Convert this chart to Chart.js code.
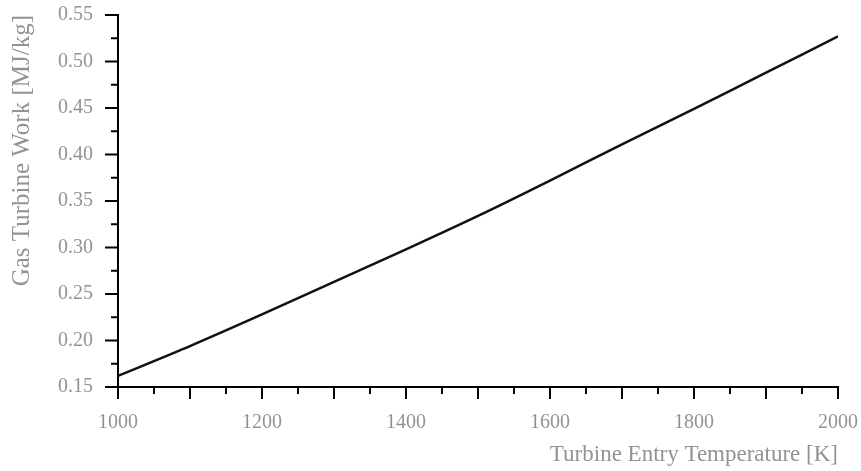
<!DOCTYPE html>
<html>
<head>
<meta charset="utf-8">
<script src="https://cdn.jsdelivr.net/npm/chart.js@4/dist/chart.umd.min.js"></script>
<style>
  html, body { margin: 0; padding: 0; background: #fff; }
  #wrap { width: 861px; height: 471px; }
</style>
</head>
<body>
<div id="wrap"><canvas id="grafico"></canvas></div>
<script>
// datos
const temperaturas = [1000, 1100, 1200, 1300, 1400, 1500, 1600, 1700, 1800, 1900, 2000];
const trabajo = [0.162, 0.194, 0.228, 0.263, 0.298, 0.334, 0.372, 0.411, 0.449, 0.488, 0.527];

// marcas de los ejes
const xMayores = [1000, 1100, 1200, 1300, 1400, 1500, 1600, 1700, 1800, 1900, 2000];
const xMenores = [1050, 1150, 1250, 1350, 1450, 1550, 1650, 1750, 1850, 1950];
const yMayores = [0.15, 0.20, 0.25, 0.30, 0.35, 0.40, 0.45, 0.50, 0.55];
const yMenores = [0.175, 0.225, 0.275, 0.325, 0.375, 0.425, 0.475, 0.525];

const gris = '#939393';
const fuente = "'Liberation Serif', 'Times New Roman', serif";

// dibuja las marcas largas y cortas usando las escalas de Chart.js
const marcas = {
    id: 'marcas',
    afterDraw(chart) {
        const ctx = chart.ctx;
        const sx = chart.scales.x, sy = chart.scales.y;
        const x0 = sx.getPixelForValue(1000), y0 = sy.getPixelForValue(0.15);
        ctx.save();
        ctx.strokeStyle = '#000';
        ctx.lineWidth = 2;
        ctx.beginPath();
        xMayores.forEach(v => { let p = sx.getPixelForValue(v); ctx.moveTo(p, y0); ctx.lineTo(p, y0 + 12); });
        xMenores.forEach(v => { let p = sx.getPixelForValue(v); ctx.moveTo(p, y0); ctx.lineTo(p, y0 + 7); });
        yMayores.forEach(v => { let p = sy.getPixelForValue(v); ctx.moveTo(x0, p); ctx.lineTo(x0 - 13, p); });
        yMenores.forEach(v => { let p = sy.getPixelForValue(v); ctx.moveTo(x0, p); ctx.lineTo(x0 - 7, p); });
        ctx.stroke();
        ctx.restore();
    }
};

const ctx = document.getElementById('grafico').getContext('2d');
window.myChart = new Chart(ctx, {
    type: 'line',
    data: {
        datasets: [{
            data: temperaturas.map((t, i) => ({ x: t, y: trabajo[i] })),
            borderColor: '#111',
            borderWidth: 2.5,
            pointRadius: 0,
            tension: 0.3,
            fill: false
        }]
    },
    options: {
        responsive: true,
        maintainAspectRatio: false,
        animation: false,
        layout: { padding: { top: 15, right: 23, left: 0, bottom: 0 } },
        plugins: {
            legend: { display: false },
            tooltip: { enabled: false }
        },
        scales: {
            x: {
                type: 'linear',
                min: 1000, max: 2000,
                afterFit: s => { s.height = 84; s.paddingLeft = 0; s.paddingRight = 0; },
                grid: { display: false, drawTicks: false },
                border: { display: true, color: '#000', width: 2 },
                ticks: {
                    stepSize: 200,
                    padding: 24,
                    color: gris,
                    font: { family: fuente, size: 20 },
                    maxRotation: 0,
                    callback: v => String(v)
                },
                title: {
                    display: true,
                    text: 'Turbine Entry Temperature [K]',
                    align: 'end',
                    color: gris,
                    font: { family: fuente, size: 23 },
                    padding: { top: 0, bottom: 2 }
                }
            },
            y: {
                min: 0.15, max: 0.55,
                afterFit: s => { s.width = 118; s.paddingTop = 0; s.paddingBottom = 0; },
                grid: { display: false, drawTicks: false },
                border: { display: true, color: '#000', width: 2 },
                ticks: {
                    stepSize: 0.05,
                    padding: 25,
                    color: gris,
                    font: { family: fuente, size: 20 },
                    callback: v => v.toFixed(2)
                },
                title: {
                    display: true,
                    text: 'Gas Turbine Work [MJ/kg]',
                    align: 'end',
                    color: gris,
                    font: { family: fuente, size: 25 },
                    padding: { top: 7, bottom: 0 }
                }
            }
        }
    },
    plugins: [marcas]
});
</script>
</body>
</html>
